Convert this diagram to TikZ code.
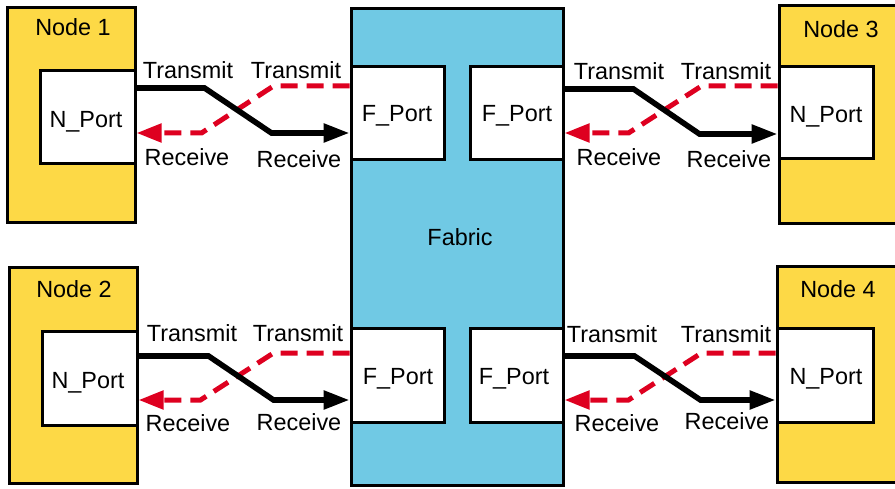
\documentclass[tikz,border=0pt]{standalone}
\usepackage{fontspec}
\setmainfont{Liberation Sans}
\usetikzlibrary{arrows.meta}
\definecolor{nodeyellow}{RGB}{253,217,70}
\definecolor{fabricblue}{RGB}{112,201,228}
\definecolor{rxred}{RGB}{222,0,32}
\tikzset{
  box/.style={draw=black, line width=3pt, rectangle, inner sep=0pt},
  nodebox/.style={box, fill=nodeyellow},
  portbox/.style={box, fill=white},
  fabricbox/.style={box, fill=fabricblue},
  lbl/.style={inner sep=0pt, font=\fontsize{23.4}{28}\selectfont, text height=16.75pt, text depth=0pt},
  txline/.style={line width=5.6pt, black, line join=miter, -{Triangle[length=26pt,width=18pt]}},
  rxline/.style={line width=5pt, rxred, dash pattern=on 17pt off 9pt, line join=miter, -{Triangle[length=25pt,width=18pt]}},
}
\begin{document}
\begin{tikzpicture}[x=1pt,y=-1pt]
\clip (0,0) rectangle (895,489);
\fill[white] (0,0) rectangle (895,489);
% boxes
\node[nodebox, minimum width=128, minimum height=215] (n1) at (71,115.5) {};
\node[nodebox, minimum width=128, minimum height=215] (n2) at (73,375.5) {};
\node[nodebox, minimum width=128, minimum height=218] (n3) at (843,115) {};
\node[nodebox, minimum width=128, minimum height=215] (n4) at (841,374.5) {};
\node[fabricbox, minimum width=212, minimum height=476] (fab) at (457,247) {};
\node[portbox, minimum width=95, minimum height=93] (np1) at (87.5,117.5) {};
\node[portbox, minimum width=95, minimum height=93] (np2) at (89.5,378.5) {};
\node[portbox, minimum width=94, minimum height=92] (np3) at (826,113) {};
\node[portbox, minimum width=96, minimum height=93] (np4) at (825,375.5) {};
\node[portbox, minimum width=93, minimum height=93] (fp1) at (397.5,113.5) {};
\node[portbox, minimum width=93, minimum height=93] (fp2) at (516.5,113.5) {};
\node[portbox, minimum width=93, minimum height=93] (fp3) at (397.5,375.5) {};
\node[portbox, minimum width=93, minimum height=93] (fp4) at (516.5,375.5) {};
% box labels
\node[lbl] (t1) at (73,27) {Node 1};
\node[lbl] (t2) at (74,289) {Node 2};
\node[lbl] (t3) at (841,29) {Node 3};
\node[lbl] (t4) at (838,289) {Node 4};
\node[lbl] (tn1) at (86,119) {N\_Port};
\node[lbl] (tn2) at (88,380) {N\_Port};
\node[lbl] (tn3) at (826,114) {N\_Port};
\node[lbl] (tn4) at (826,376) {N\_Port};
\node[lbl] (tf1) at (397,113) {F\_Port};
\node[lbl] (tf2) at (517,113) {F\_Port};
\node[lbl] (tf3) at (398,376) {F\_Port};
\node[lbl] (tf4) at (514,376) {F\_Port};
\node[lbl] (tfab) at (460,237) {Fabric};
% link labels
\node[lbl] (l1a) at (188,70) {Transmit};
\node[lbl] (l1b) at (296,70) {Transmit};
\node[lbl] (l1c) at (187,157) {Receive};
\node[lbl] (l1d) at (299,159) {Receive};
\node[lbl] (l2a) at (619,71) {Transmit};
\node[lbl] (l2b) at (726,71) {Transmit};
\node[lbl] (l2c) at (619,157) {Receive};
\node[lbl] (l2d) at (729,159) {Receive};
\node[lbl] (l3a) at (192,333) {Transmit};
\node[lbl] (l3b) at (298,333) {Transmit};
\node[lbl] (l3c) at (188,423) {Receive};
\node[lbl] (l3d) at (299,422) {Receive};
\node[lbl] (l4a) at (612,334) {Transmit};
\node[lbl] (l4b) at (726,334) {Transmit};
\node[lbl] (l4c) at (617,423) {Receive};
\node[lbl] (l4d) at (727,421) {Receive};
% connectors: receive (red, dashed) first, transmit (black) on top
\draw[rxline] (fp1.west |- 0,86) -- ++(-76,0) -- ++(-72,47) -- (np1.east |- 0,133);
\draw[txline] (np1.east |- 0,88) -- ++(68,0) -- ++(67,45) -- (fp1.west |- 0,133);
\draw[rxline] (np3.west |- 0,86) -- ++(-76,0) -- ++(-73,47) -- (fp2.east |- 0,133);
\draw[txline] (fp2.east |- 0,89) -- ++(69,0) -- ++(66,45) -- (np3.west |- 0,134);
\draw[rxline] (fp3.west |- 0,353) -- ++(-76,0) -- ++(-73,47) -- (np2.east |- 0,400);
\draw[txline] (np2.east |- 0,356) -- ++(70,0) -- ++(65,44) -- (fp3.west |- 0,400);
\draw[rxline] (np4.west |- 0,353) -- ++(-74,0) -- ++(-73,47) -- (fp4.east |- 0,400);
\draw[txline] (fp4.east |- 0,356) -- ++(70,0) -- ++(66,44) -- (np4.west |- 0,400);
\end{tikzpicture}
\end{document}
